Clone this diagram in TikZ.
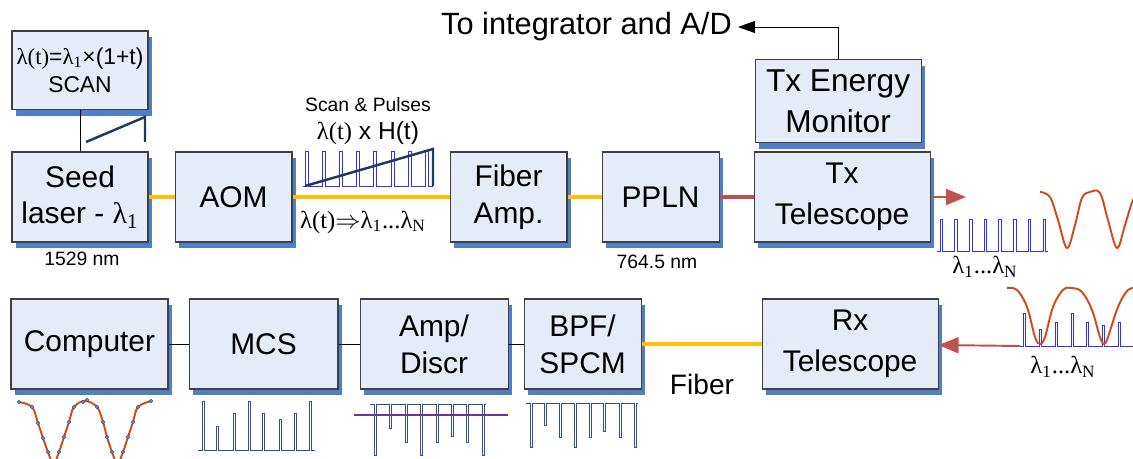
\documentclass[tikz,border=0pt]{standalone}
\usepackage{fontspec}
\setmainfont{Liberation Sans}
\newfontfamily\serifgreek{Liberation Serif}
\usepackage[dvipsnames]{xcolor}
\usetikzlibrary{positioning,shadows,arrows.meta}

\definecolor{boxfill}{HTML}{E6ECF7}
\definecolor{boxline}{HTML}{404040}
\definecolor{shadowblue}{HTML}{4F7FC6}
\definecolor{fiberyellow}{HTML}{FFC000}
\definecolor{laserred}{HTML}{C0504D}
\definecolor{pulseblue}{HTML}{3030FF}
\definecolor{rampnavy}{HTML}{1F3A60}
\definecolor{waveorange}{HTML}{D4491A}
\definecolor{countblue}{HTML}{2F528F}
\definecolor{threshpurple}{HTML}{7030A0}
\definecolor{dotblue}{HTML}{7F95B8}

\begin{document}
\begin{tikzpicture}[x=0.02cm,y=-0.02cm,>=Triangle,
    block node/.style={draw=boxline,fill=boxfill,line width=0.6pt,align=center,inner sep=1pt,
      minimum height=1.8cm,font=\fontsize{17}{21}\selectfont,
      drop shadow={shadow xshift=0.08cm,shadow yshift=-0.12cm,fill=shadowblue,opacity=1}},
    small label/.style={font=\fontsize{11}{13}\selectfont},
    lambda label/.style={font=\fontsize{14}{16}\selectfont},
    fiber/.style={draw=fiberyellow,line width=2.4pt},
    laser/.style={draw=laserred,line width=2.4pt},
    beam/.style={draw=laserred,line width=1.1pt,-{Triangle[length=0.4cm,width=0.32cm]}},
    link/.style={draw=black,line width=0.5pt},
    pulse/.style={pulseblue,line width=0.45pt},
    counts/.style={countblue,line width=0.45pt},
    ramp/.style={rampnavy,line width=1.4pt},
    wave/.style={waveorange,line width=1.1pt}]

    \useasboundingbox (0,0) rectangle (1133,459);

    % transmitter row
    \node[block node, minimum width=2.72cm] (seed) at (80,197) {Seed\\laser - {\serifgreek λ\textsubscript{1}}};
    \node[block node, minimum width=2.34cm] (aom) [right=0.52cm of seed] {AOM};
    \node[block node, minimum width=2.34cm] (amp) [right=3.14cm of aom] {Fiber\\Amp.};
    \node[block node, minimum width=2.34cm] (ppln) [right=0.68cm of amp] {PPLN};
    \node[block node, minimum width=3.52cm, font=\fontsize{17}{23}\selectfont] (txtel) [right=0.68cm of ppln] {Tx\\Telescope};
    \node[block node, minimum width=3.32cm, minimum height=1.66cm, font=\fontsize{18}{23}\selectfont]
        (txmon) [above=0.16cm of txtel, xshift=-0.08cm] {Tx Energy\\Monitor};
    \node[block node, minimum width=2.72cm, minimum height=1.58cm, font=\fontsize{13}{16}\selectfont]
        (scan) [above=0.82cm of seed] {{\serifgreek λ(t)}={\serifgreek λ\textsubscript{1}}×(1+t)\\SCAN};

    % receiver row
    \node[block node, minimum width=3.14cm] (comp) at (89.5,344) {Computer};
    \node[block node, minimum width=2.98cm] (mcs) [right=0.4cm of comp] {MCS};
    \node[block node, minimum width=2.96cm] (discr) [right=0.42cm of mcs] {Amp/\\Discr};
    \node[block node, minimum width=2.34cm] (spcm) [right=0.3cm of discr] {BPF/\\SPCM};
    \node[block node, minimum width=3.52cm, font=\fontsize{17}{23}\selectfont] (rxtel) [right=2.4cm of spcm] {Rx\\Telescope};

    % labels
    \node[font=\fontsize{17.5}{20}\selectfont] (todest) at (586.5,27) {To integrator and A/D};
    \node[small label] (seedwl) at (82,259) {1529 nm};
    \node[small label] (pplnwl) at (657,262) {764.5 nm};
    \node[small label] (scanlbl) at (368,105) {Scan \& Pulses};
    \node[lambda label] (scanfun) at (368,133) {{\serifgreek λ(t)} x H(t)};
    \node[lambda label] (chirp) at (363,222) {\serifgreek λ(t)$\Rightarrow$λ\textsubscript{1}...λ\textsubscript{N}};
    \node[lambda label] (txlam) at (985,267) {\serifgreek λ\textsubscript{1}...λ\textsubscript{N}};
    \node[lambda label] (rxlam) at (1063,367) {\serifgreek λ\textsubscript{1}...λ\textsubscript{N}};
    \node[font=\fontsize{16}{19}\selectfont] (fiberlbl) at (702,384) {Fiber};

    \coordinate (txout) at (966,197);
    \coordinate (rxin) at (1020,346);

    % connectors
    \path
        (scan) edge[link] (seed)
        (seed) edge[fiber] (aom)
        (aom) edge[fiber] (amp)
        (amp) edge[fiber] (ppln)
        (ppln) edge[laser] (txtel)
        (txtel) edge[beam] (txout)
        (rxin) edge[beam] (rxtel)
        (comp) edge[link] (mcs)
        (mcs) edge[link] (discr)
        (discr) edge[link] (spcm)
        (spcm) edge[fiber] (rxtel)
    ;
    \draw[link,-{Triangle[length=0.34cm,width=0.24cm]}] (txmon.north) |- (todest.east);

    % scan ramp
    \draw[ramp] (86,142) -- (145,117) -- (145,142);

    % scan and pulses
    \draw[pulse] (303,186) \foreach \p in {305,322.2,...,426} {-- (\p,186) -- (\p,151) -- (\p+3,151) -- (\p+3,186)} -- (433,186);
    \draw[ramp] (305,186) -- (433,149) -- (433,186);

    \begin{scope}
      \clip (0,0) rectangle (1133,459);
      % transmitted pulses
      \draw[pulse] (937,251) \foreach \p in {940,954.7,...,1044} {-- (\p,251) -- (\p,219) -- (\p+2.5,219) -- (\p+2.5,251)} -- (1048,251);
      \draw[wave] plot[smooth,tension=0.6] coordinates {(1040,192) (1050,197) (1058,220) (1067,248) (1075,225) (1082,198) (1090,192) (1100,193) (1108,220) (1117,248) (1125,225) (1133,200) (1140,192)};
      % received pulses
      \draw[pulse] (1020,346) \foreach \p/\h in {1023/313,1039/329,1055/322,1071/313,1086/322,1102/325,1118/322,1134/313} {-- (\p,346) -- (\p,\h) -- (\p+2.5,\h) -- (\p+2.5,346)};
      \draw[wave] plot[smooth,tension=0.6] coordinates {(1007,288) (1017,290) (1027,307) (1035,337) (1040,344) (1045,337) (1053,307) (1063,290) (1072,288) (1082,292) (1092,310) (1100,337) (1104,344) (1108,337) (1118,307) (1128,290) (1138,288)};
      % fitted return
      \draw[wave] plot[smooth,tension=0.6] coordinates {(19,402) (32,407) (38,423) (43,438) (48,452) (53.5,464) (59,452) (64,437) (69,422) (74,407) (85,401) (97,407) (103,422) (107,437) (112,452) (117.5,464) (123,452) (128,437) (133,422) (138,407) (151,401)};
      \foreach \pt in {(19,402),(32,407),(38,423),(43,438),(48,452),(59,452),(64,437),(69,422),(74,407),(83,402),(87,400),(97,407),(103,422),(107,437),(112,452),(123,452),(128,437),(133,422),(138,407),(151,401)}
        \filldraw[fill=dotblue,draw=countblue,line width=0.3pt] \pt circle[radius=1.8];
    \end{scope}

    % counts
    \draw[counts] (198,450) \foreach \p/\h in {202/401,216/426,233/413,248/401,262/413,279/419,294/413,309/401} {-- (\p,450) -- (\p,\h) -- (\p+2.5,\h) -- (\p+2.5,450)} -- (315,450);
    \draw[counts] (370,404) \foreach \p/\h in {374/455,389/428,405/442,420/455,436/442,451/436,466/442,482/455} {-- (\p,404) -- (\p,\h) -- (\p+2.5,\h) -- (\p+2.5,404)} -- (486,404);
    \draw[threshpurple,line width=1.4pt] (354,415) -- (508,415);
    \draw[counts] (526,403) \foreach \p/\h in {530/447,544/425,559/437,574/447,589/437,603/431,619/437,634/447} {-- (\p,403) -- (\p,\h) -- (\p+2.5,\h) -- (\p+2.5,403)} -- (638,403);
\end{tikzpicture}
\end{document}
